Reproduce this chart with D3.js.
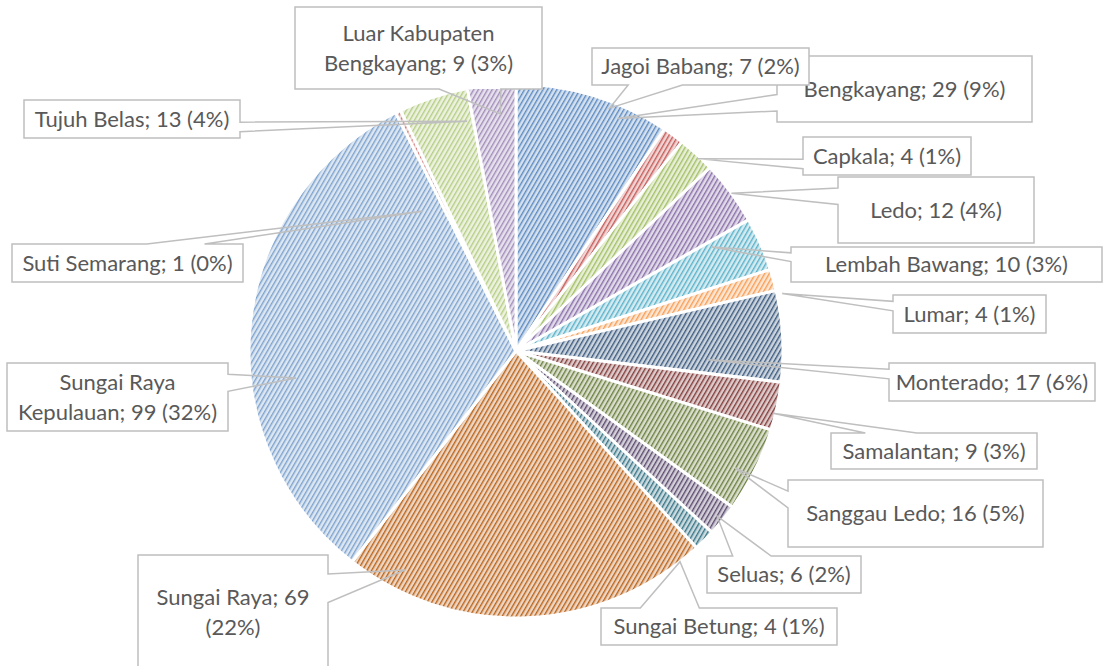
<!DOCTYPE html>
<meta charset="utf-8">
<script src="https://d3js.org/d3.v7.min.js"></script>
<style>
  body { margin: 0; background: #fff; }
</style>
<div id="my_dataviz"></div>
<script>

// data, in the order Excel draws the slices (clockwise from 12 o'clock)
var categories = ["Bengkayang", "Capkala", "Jagoi Babang", "Ledo", "Lembah Bawang", "Lumar",
  "Monterado", "Samalantan", "Sanggau Ledo", "Seluas", "Sungai Betung", "Sungai Raya",
  "Sungai Raya Kepulauan", "Suti Semarang", "Tujuh Belas", "Luar Kabupaten Bengkayang"];
var values = [29, 4, 7, 12, 10, 4, 17, 9, 16, 6, 4, 69, 99, 1, 13, 9];

// office 2007 palette: base, darker, lighter
var sliceColors = ["#4F81BD", "#C0504D", "#9BBB59", "#8064A2", "#4BACC6", "#F79646",
  "#2C4D75", "#772C2A", "#5F7530", "#4D3B62", "#276A7C", "#B65708",
  "#729ACA", "#CD7371", "#AFC97A", "#9983B5"];

// label boxes [x, y, w, h] as placed by hand in the original
var labelBoxes = [
  [777, 56, 255, 66], [803, 137, 168, 38], [592, 48, 217, 37], [838, 177, 196, 66],
  [791, 247, 311, 35], [893, 295, 153, 38], [889, 363, 206, 38], [831, 433, 206, 36],
  [788, 480, 255, 67], [707, 556, 154, 37], [601, 608, 236, 37], [138, 555, 190, 114],
  [7, 363, 221, 68], [12, 244, 231, 38], [24, 100, 216, 38], [295, 7, 247, 82]
];
// callout tips: [angle in degrees clockwise from top, fraction of radius]
var labelTips = [
  [23.6, 0.95], [43.3, 0.99], [21.1, 0.975], [53.8, 1.0],
  [62.0, 0.83], [77.8, 1.02], [92.6, 0.72], [103.6, 0.99],
  [118.1, 0.93], [129.4, 0.975], [142.1, 1.0], [206.9, 0.92],
  [263.0, 0.83], [326.2, 0.63], [348.0, 0.88], [356.2, 0.89]
];

var width = 1104, height = 666;
var cx = 516, cy = 351, radius = 267;

var svg = d3.select("#my_dataviz")
  .append("svg")
    .attr("width", width)
    .attr("height", height);

var defs = svg.append("defs");

// hatch pattern per slice (light tint + diagonal stripes)
sliceColors.forEach(function(c, i) {
  var p = defs.append("pattern")
    .attr("id", "hatch" + i)
    .attr("patternUnits", "userSpaceOnUse")
    .attr("width", 4)
    .attr("height", 4)
    .attr("patternTransform", "rotate(30)");
  p.append("rect")
    .attr("width", 4).attr("height", 4)
    .attr("fill", d3.interpolateRgb(c, "#ffffff")(0.76));
  p.append("rect")
    .attr("width", 1.4).attr("height", 4)
    .attr("fill", c)
    .attr("fill-opacity", 0.9);
});

var total = d3.sum(values);
var pie = d3.pie().sort(null).value(function(d) { return d; });
var arc = d3.arc().innerRadius(0).outerRadius(radius);

var g = svg.append("g").attr("transform", "translate(" + cx + "," + cy + ")");

g.selectAll("path.slice")
  .data(pie(values))
  .enter()
  .append("path")
    .attr("class", "slice")
    .attr("d", arc)
    .attr("fill", function(d, i) { return "url(#hatch" + i + ")"; })
    .attr("stroke", "#ffffff")
    .attr("stroke-width", 3)
    .attr("stroke-linejoin", "round");

// label text
var fontFamily = "Lato, 'Open Sans', sans-serif";
var probe = svg.append("text").style("font-family", fontFamily).style("font-size", "20px")
  .text("Lembah Bawang; 10 (3%)");
var fontSize = 20 * 243 / probe.node().getComputedTextLength();
probe.style("font-size", fontSize + "px");

function measure(s) {
  probe.text(s);
  return probe.node().getComputedTextLength();
}

function wrap(s, maxW) {
  var words = s.split(" "), lines = [], cur = "";
  words.forEach(function(w) {
    var t = cur ? cur + " " + w : w;
    if (cur && measure(t) > maxW) { lines.push(cur); cur = w; }
    else cur = t;
  });
  lines.push(cur);
  return lines;
}

// excel style wedge rectangle callout
function callout(b, tip) {
  var x = b[0], y = b[1], w = b[2], h = b[3];
  var dx = tip[0] - (x + w / 2), dy = tip[1] - (y + h / 2);
  var side = Math.abs(dx * h / w) > Math.abs(dy);
  var xa = x + w * (dx > 0 ? 7 : 2) / 12, xb = x + w * (dx > 0 ? 10 : 5) / 12;
  var ya = y + h * (dy > 0 ? 7 : 2) / 12, yb = y + h * (dy > 0 ? 10 : 5) / 12;
  var p = d3.path();
  var t = tip;
  p.moveTo(x, y);
  if (!side && dy < 0) { p.lineTo(xa, y); p.lineTo(t[0], t[1]); p.lineTo(xb, y); }
  p.lineTo(x + w, y);
  if (side && dx > 0) { p.lineTo(x + w, ya); p.lineTo(t[0], t[1]); p.lineTo(x + w, yb); }
  p.lineTo(x + w, y + h);
  if (!side && dy > 0) { p.lineTo(xb, y + h); p.lineTo(t[0], t[1]); p.lineTo(xa, y + h); }
  p.lineTo(x, y + h);
  if (side && dx < 0) { p.lineTo(x, yb); p.lineTo(t[0], t[1]); p.lineTo(x, ya); }
  p.closePath();
  return p.toString();
}

var labels = svg.append("g");

categories.forEach(function(name, i) {
  var b = labelBoxes[i];
  var a = labelTips[i][0] * Math.PI / 180, r = labelTips[i][1] * radius;
  var tip = [cx + r * Math.sin(a), cy - r * Math.cos(a)];
  var pct = Math.round(values[i] / total * 100);
  var txt = name + "; " + values[i] + " (" + pct + "%)";
  var lines = wrap(txt, b[2] - 4);

  var lg = labels.append("g");
  lg.append("rect")
    .attr("x", b[0]).attr("y", b[1])
    .attr("width", b[2]).attr("height", b[3])
    .attr("fill", "#ffffff");
  lg.append("path")
    .attr("d", callout(b, tip))
    .attr("fill", "none")
    .attr("stroke", "#bfbfbf")
    .attr("stroke-width", 1.5);

  var midY = b[1] + b[3] / 2;
  var lineH = 30;
  var t = lg.append("text")
    .attr("text-anchor", "middle")
    .style("font-family", fontFamily)
    .style("font-size", fontSize + "px")
    .style("fill", "#595959");
  lines.forEach(function(l, k) {
    t.append("tspan")
      .attr("x", b[0] + b[2] / 2)
      .attr("y", midY - (lines.length - 1) * lineH / 2 + k * lineH + fontSize * 0.36)
      .text(l);
  });
});

probe.remove();

</script>
